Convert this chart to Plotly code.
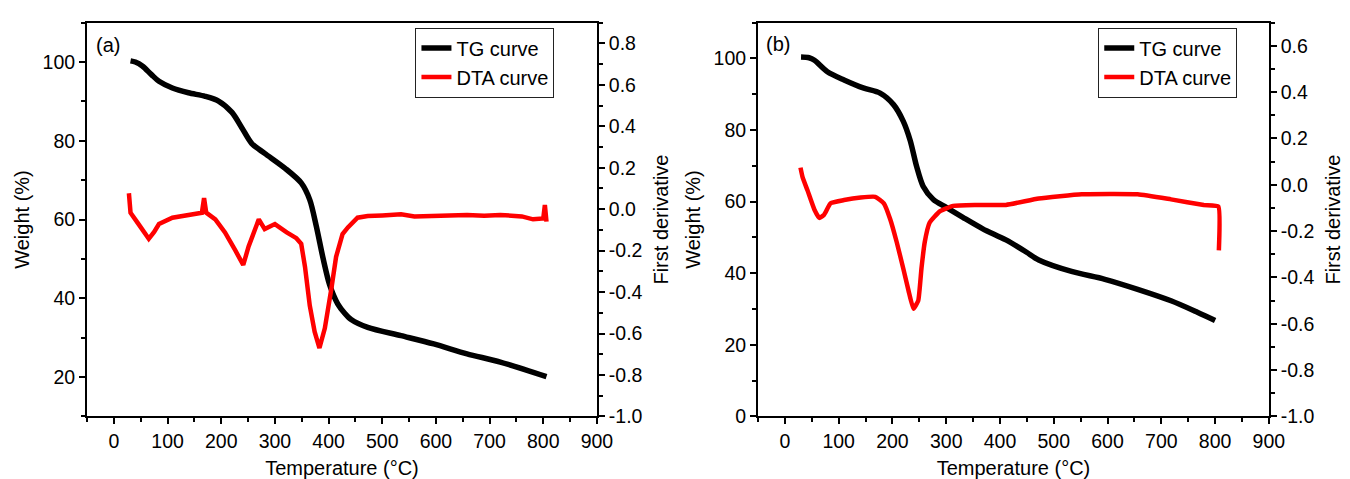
import plotly.graph_objects as go

# ---------------- data ----------------
tg_a_T = [31, 40, 53, 70, 84, 109, 139, 170, 195, 220, 238, 257, 281, 319, 349, 365, 377, 390, 402, 417, 430, 442, 473, 535, 596, 658, 720, 806]
tg_a_W = [100.3, 100.0, 99.0, 96.8, 95.1, 93.4, 92.2, 91.3, 90.1, 87.2, 83.4, 79.3, 76.8, 73.0, 69.3, 65.0, 58.4, 50.0, 43.4, 38.6, 36.2, 34.6, 32.6, 30.5, 28.4, 25.9, 23.8, 20.1]

dta_a_T = [28, 31, 44, 56, 65, 75, 84, 109, 139, 164, 168, 172, 189, 207, 226, 236, 241, 251, 260, 270, 281, 300, 322, 340, 349, 356, 365, 374, 383, 393, 405, 414, 426, 436, 454, 473, 500, 535, 560, 596, 630, 658, 690, 720, 760, 781, 800, 803, 806]
dta_a_D = [0.077, -0.017, -0.065, -0.11, -0.143, -0.11, -0.072, -0.041, -0.028, -0.017, 0.053, -0.017, -0.049, -0.112, -0.198, -0.24, -0.269, -0.18, -0.12, -0.049, -0.096, -0.072, -0.112, -0.14, -0.167, -0.277, -0.466, -0.591, -0.67, -0.575, -0.387, -0.23, -0.12, -0.088, -0.041, -0.033, -0.03, -0.025, -0.035, -0.033, -0.03, -0.028, -0.032, -0.028, -0.035, -0.049, -0.045, 0.02, -0.06]

tg_b_T = [30, 45, 55, 79, 110, 147, 177, 202, 220, 233, 245, 257, 276, 300, 331, 368, 411, 448, 472, 533, 595, 656, 718, 767, 800]
tg_b_W = [100.4, 100.2, 99.5, 96.3, 94.0, 91.7, 90.3, 87.1, 82.5, 77.1, 69.8, 64.3, 60.6, 58.4, 55.6, 52.4, 49.3, 46.0, 43.7, 40.5, 38.3, 35.5, 32.3, 29.1, 26.8]

dta_b_T = [29, 33, 42, 55, 64, 73, 85, 110, 141, 168, 184, 196, 208, 220, 230, 239, 248, 254, 260, 269, 288, 313, 355, 411, 472, 552, 656, 718, 779, 806, 807]
dta_b_D = [0.074, 0.032, -0.024, -0.108, -0.143, -0.129, -0.08, -0.066, -0.055, -0.052, -0.08, -0.15, -0.248, -0.36, -0.458, -0.535, -0.5, -0.36, -0.248, -0.164, -0.115, -0.091, -0.087, -0.087, -0.059, -0.041, -0.041, -0.063, -0.087, -0.094, -0.283]

x_ticks = [0, 100, 200, 300, 400, 500, 600, 700, 800, 900]
w_ticks_a = [20, 40, 60, 80, 100]
w_ticks_b = [0, 20, 40, 60, 80, 100]
d_ticks_a = [-1.0, -0.8, -0.6, -0.4, -0.2, 0.0, 0.2, 0.4, 0.6, 0.8]
d_ticks_b = [-1.0, -0.8, -0.6, -0.4, -0.2, 0.0, 0.2, 0.4, 0.6]


def dlabel(v):
    return f"{v:.1f}".replace("\u2212", "-")


FONT = "Arial, Liberation Sans, Helvetica, sans-serif"
TICKFONT = dict(family=FONT, size=19.5, color="black")
TITLEFONT = dict(family=FONT, size=20, color="black")
LEGFONT = dict(family=FONT, size=20, color="black")

fig = go.Figure()

fig.add_trace(go.Scatter(x=tg_a_T, y=tg_a_W, mode="lines", name="TG curve",
                         line=dict(color="black", width=5.5, shape="spline", smoothing=0.8),
                         xaxis="x", yaxis="y", legend="legend"))
fig.add_trace(go.Scatter(x=dta_a_T, y=dta_a_D, mode="lines", name="DTA curve",
                         line=dict(color="#ff0000", width=4.5), xaxis="x", yaxis="y2", legend="legend"))
fig.add_trace(go.Scatter(x=tg_b_T, y=tg_b_W, mode="lines", name="TG curve",
                         line=dict(color="black", width=5.5, shape="spline", smoothing=0.8),
                         xaxis="x2", yaxis="y3", legend="legend2"))
fig.add_trace(go.Scatter(x=dta_b_T, y=dta_b_D, mode="lines", name="DTA curve",
                         line=dict(color="#ff0000", width=4.5, shape="spline", smoothing=0.4),
                         xaxis="x2", yaxis="y4", legend="legend2"))

ydom = [61 / 479, 464 / 479]

common_x = dict(range=[-50, 900], tickvals=x_ticks, ticks="outside", ticklen=6, tickwidth=2,
                tickcolor="black", showline=True, linecolor="black", linewidth=2, mirror=True,
                showgrid=False, zeroline=False, tickfont=TICKFONT,
                minor=dict(tick0=-50, dtick=100, ticks="outside", ticklen=4, tickwidth=2, tickcolor="black"),
                title=dict(text="Temperature (°C)", font=TITLEFONT, standoff=10))

common_y = dict(ticks="outside", ticklen=6, tickwidth=2, tickcolor="black", showline=True,
                linecolor="black", linewidth=2, showgrid=False, zeroline=False, tickfont=TICKFONT)

leg_common = dict(xanchor="right", yanchor="top", bgcolor="white", bordercolor="#222222",
                  borderwidth=1, font=LEGFONT, itemwidth=30, tracegroupgap=0)

fig.update_layout(
    width=1350, height=479,
    margin=dict(l=0, r=0, t=0, b=0),
    paper_bgcolor="white", plot_bgcolor="white",
    showlegend=True,
    xaxis=dict(domain=[80 / 1350, 596 / 1350], anchor="y", **common_x),
    yaxis=dict(domain=ydom, anchor="x", range=[10, 110], tickvals=w_ticks_a,
               minor=dict(tick0=10, dtick=20, ticks="outside", ticklen=4, tickwidth=2, tickcolor="black"),
               title=dict(text="Weight (%)", font=TITLEFONT, standoff=8), **common_y),
    yaxis2=dict(overlaying="y", side="right", anchor="x", range=[-1.0, 0.9],
                tickvals=d_ticks_a, ticktext=[dlabel(v) for v in d_ticks_a],
                minor=dict(tick0=-0.9, dtick=0.2, ticks="outside", ticklen=4, tickwidth=2, tickcolor="black"),
                title=dict(text="First derivative", font=TITLEFONT, standoff=12), **common_y),
    xaxis2=dict(domain=[759 / 1350, 1276 / 1350], anchor="y3", **common_x),
    yaxis3=dict(domain=ydom, anchor="x2", range=[0, 110], tickvals=w_ticks_b,
                minor=dict(tick0=10, dtick=20, ticks="outside", ticklen=4, tickwidth=2, tickcolor="black"),
                title=dict(text="Weight (%)", font=TITLEFONT, standoff=8), **common_y),
    yaxis4=dict(overlaying="y3", side="right", anchor="x2", range=[-1.0, 0.7],
                tickvals=d_ticks_b, ticktext=[dlabel(v) for v in d_ticks_b],
                minor=dict(tick0=-0.9, dtick=0.2, ticks="outside", ticklen=4, tickwidth=2, tickcolor="black"),
                title=dict(text="First derivative", font=TITLEFONT, standoff=12), **common_y),
    legend=dict(x=553 / 1350, y=(479 - 20) / 479, **leg_common),
    legend2=dict(x=1244 / 1350, y=(479 - 20) / 479, **leg_common),
    annotations=[
        dict(text="(a)", x=87 / 1350, y=(479 - 38) / 479, xref="paper", yref="paper",
             xanchor="left", yanchor="middle", showarrow=False,
             font=dict(family=FONT, size=20, color="black")),
        dict(text="(b)", x=765 / 1350, y=(479 - 37) / 479, xref="paper", yref="paper",
             xanchor="left", yanchor="middle", showarrow=False,
             font=dict(family=FONT, size=20, color="black")),
    ],
)

fig.write_html("out.html")
